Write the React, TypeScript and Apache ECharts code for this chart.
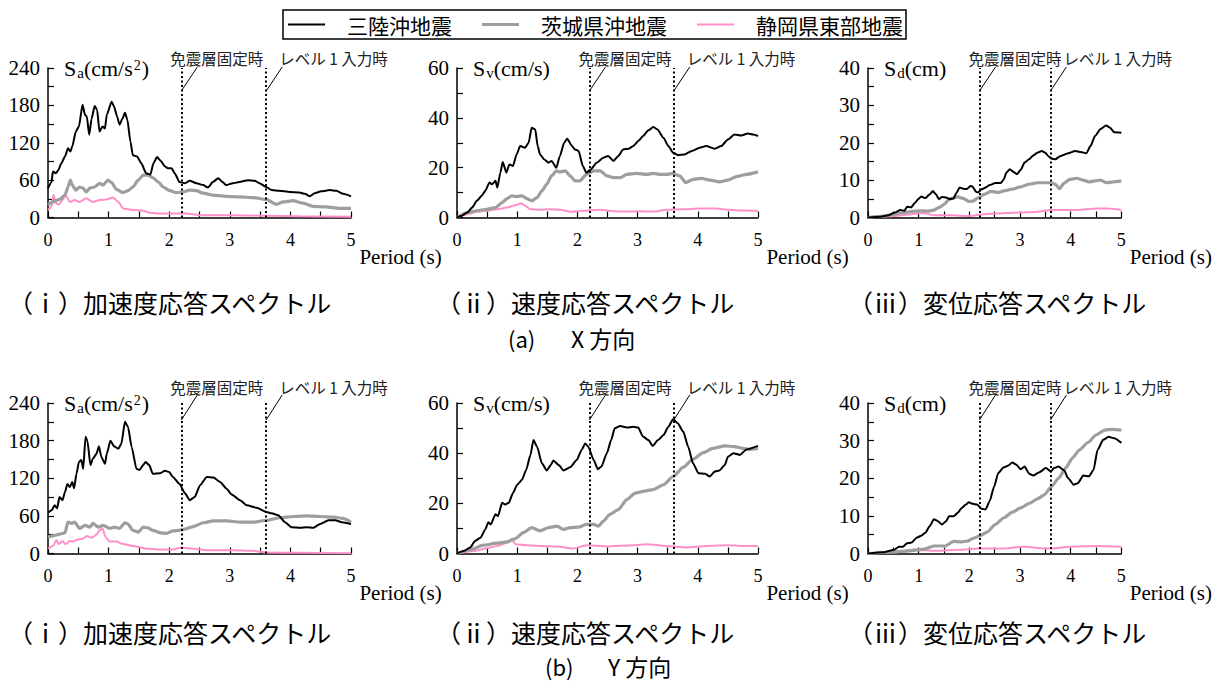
import { useEffect, useRef } from 'react';
import * as echarts from 'echarts';

type Pt = [number, number];

const SERIF = 'Liberation Serif, Times New Roman, serif';
const SANS_JP = 'Noto Sans CJK JP, Noto Sans, sans-serif';

// Earthquake records (legend order) and their line styles
const quakeNames = ['三陸沖地震', '茨城県沖地震', '静岡県東部地震'];
const quakeColors = ['#000000', '#9e9e9e', '#ff8fc8'];
const quakeWidths = [2, 3.2, 2];

// Reference periods marked by dotted lines and their labels
const markPeriods = [2.2, 3.6];
const markLabels = ['免震層固定時', 'レベル 1 入力時'];

// Axis ranges per spectrum type
const yMaxes = [240, 60, 40];
const yIntervals = [60, 20, 10];
const yNames = [
  '{m|S}{sub|a}{m|(cm/s}{sup|2}{m|)}',
  '{m|S}{sub|v}{m|(cm/s)}',
  '{m|S}{sub|d}{m|(cm)}',
];
const xName = 'Period (s)';

const captions = ['（ⅰ）加速度応答スペクトル', '（ⅱ）速度応答スペクトル', '（ⅲ）変位応答スペクトル'];
const directionTags = ['(a)', '(b)'];
const directionNames = ['X 方向', 'Y 方向'];

// ---- X direction: [period (s), response] ----
const sanrikuXSa: Pt[] = [
  [0, 47], [0.06, 57], [0.08, 74], [0.13, 71], [0.17, 76], [0.22, 87], [0.28, 98], [0.33, 111], [0.37, 106],
  [0.4, 114], [0.46, 138], [0.51, 146], [0.57, 181], [0.61, 165], [0.64, 162], [0.68, 133], [0.72, 159],
  [0.77, 179], [0.81, 173], [0.85, 138], [0.9, 146], [0.94, 143], [0.97, 165], [1.05, 186], [1.09, 178],
  [1.14, 162], [1.18, 149], [1.23, 159], [1.27, 168], [1.31, 157], [1.36, 122], [1.4, 100], [1.47, 98],
  [1.54, 87], [1.62, 71], [1.69, 69], [1.74, 87], [1.8, 97], [1.85, 92], [1.93, 82], [1.98, 79], [2.04, 79],
  [2.09, 71], [2.17, 57], [2.26, 55], [2.34, 59], [2.45, 55], [2.56, 52], [2.64, 48], [2.72, 57], [2.81, 63],
  [2.88, 57], [2.94, 52], [3.05, 55], [3.16, 57], [3.3, 60], [3.41, 59], [3.49, 55], [3.6, 49], [3.69, 44],
  [3.82, 43], [3.99, 41], [4.15, 40], [4.24, 38], [4.32, 34], [4.4, 39], [4.51, 42], [4.65, 44], [4.76, 43],
  [4.87, 38], [5, 34],
];
const ibarakiXSa: Pt[] = [
  [0, 20], [0.08, 25], [0.19, 29], [0.28, 36], [0.33, 49], [0.37, 60], [0.4, 52], [0.46, 44], [0.52, 49],
  [0.58, 47], [0.63, 41], [0.69, 47], [0.77, 49], [0.85, 55], [0.91, 52], [0.99, 60], [1.05, 56], [1.13, 45],
  [1.24, 40], [1.32, 43], [1.4, 49], [1.49, 60], [1.57, 68], [1.65, 68], [1.73, 64], [1.82, 57], [1.9, 49],
  [2.01, 43], [2.12, 40], [2.23, 41], [2.34, 44], [2.45, 43], [2.56, 39], [2.72, 36], [2.94, 34], [3.16, 33],
  [3.38, 32], [3.6, 29], [3.77, 21], [3.88, 25], [4.04, 27], [4.21, 23], [4.37, 18], [4.59, 17], [4.81, 14.5],
  [5, 14.5],
];
const shizuokaXSa: Pt[] = [
  [0, 12], [0.06, 17], [0.09, 36], [0.14, 22], [0.18, 21], [0.24, 28], [0.29, 36], [0.31, 33], [0.36, 25],
  [0.44, 28], [0.52, 25], [0.63, 31], [0.74, 25], [0.85, 28], [0.96, 29], [1.07, 32], [1.16, 25], [1.24, 14.5],
  [1.4, 12], [1.57, 11], [1.68, 7.5], [1.84, 6.4], [2.06, 6.4], [2.28, 6.4], [2.5, 3.8], [3.05, 3.8],
  [3.6, 2.7], [4.15, 2.1], [5, 1.1],
];

const sanrikuXSv: Pt[] = [
  [0, 0], [0.08, 0.7], [0.17, 2], [0.25, 4], [0.33, 6.7], [0.41, 8.7], [0.47, 10.7], [0.54, 14], [0.58, 13.3],
  [0.64, 14.7], [0.67, 12], [0.72, 18], [0.76, 22.3], [0.82, 18], [0.87, 21.3], [0.93, 20.7], [0.99, 25.3],
  [1.05, 28.7], [1.13, 28], [1.19, 30], [1.24, 36], [1.3, 35.3], [1.34, 28.7], [1.38, 25.3], [1.45, 23.3],
  [1.52, 22], [1.57, 22.7], [1.65, 20], [1.71, 24.7], [1.78, 30], [1.83, 31.6], [1.91, 28.7], [1.96, 27.3],
  [2.02, 26.7], [2.09, 20.7], [2.15, 18], [2.22, 19.3], [2.32, 22], [2.43, 24], [2.51, 24.7], [2.6, 22.7],
  [2.68, 24.7], [2.76, 27.3], [2.85, 27.6], [2.93, 28.7], [3.01, 30.7], [3.09, 32.7], [3.18, 35], [3.26, 36.3],
  [3.33, 35.3], [3.43, 32], [3.51, 28.7], [3.59, 26], [3.67, 25], [3.78, 25.3], [3.9, 26.7], [4.03, 28],
  [4.14, 28.7], [4.28, 27.6], [4.39, 28.7], [4.5, 31.3], [4.61, 33.3], [4.72, 32.9], [4.83, 33.7], [4.92, 33.3],
  [5, 32.7],
];
const ibarakiXSv: Pt[] = [
  [0, 0], [0.17, 2], [0.33, 2.7], [0.5, 3.3], [0.64, 4], [0.75, 6], [0.83, 7.6], [0.91, 8.7], [0.99, 8.4],
  [1.08, 8.7], [1.16, 7.6], [1.24, 6.7], [1.33, 8], [1.41, 10.7], [1.49, 13.3], [1.57, 16.7], [1.65, 18.7],
  [1.71, 18.3], [1.8, 18.7], [1.88, 16.7], [1.96, 14.7], [2.04, 14.7], [2.15, 17.3], [2.27, 18.7], [2.38, 18.7],
  [2.49, 16.7], [2.6, 16], [2.71, 16], [2.82, 17.3], [2.98, 17.7], [3.15, 17.3], [3.26, 17.7], [3.37, 17.3],
  [3.48, 17.3], [3.59, 17.7], [3.7, 16.7], [3.8, 14], [3.92, 15.3], [4.06, 15.7], [4.2, 15], [4.36, 14.3],
  [4.5, 15], [4.64, 16.4], [4.81, 17.3], [5, 18.3],
];
const shizuokaXSv: Pt[] = [
  [0, 0], [0.17, 1.3], [0.33, 2.3], [0.5, 2.7], [0.66, 3.3], [0.83, 4], [0.97, 4.9], [1.07, 5.7], [1.13, 4.7],
  [1.22, 3.3], [1.38, 3.1], [1.55, 3.3], [1.71, 3.1], [1.88, 2.3], [2.1, 2.7], [2.38, 3.1], [2.6, 2.5],
  [2.82, 2.4], [3.04, 2.5], [3.26, 2.4], [3.48, 3.1], [3.76, 3.3], [4.03, 3.6], [4.31, 3.6], [4.53, 3.1],
  [4.75, 2.8], [5, 2.7],
];

const sanrikuXSd: Pt[] = [
  [0, 0], [0.25, 0.2], [0.41, 0.6], [0.52, 1.3], [0.64, 2], [0.72, 1.8], [0.77, 2.9], [0.85, 2.7], [0.92, 3.8],
  [0.99, 4.9], [1.05, 5.6], [1.13, 5.2], [1.22, 6.2], [1.28, 7.1], [1.34, 6.2], [1.4, 4.9], [1.46, 5.5],
  [1.55, 5.3], [1.62, 4.9], [1.69, 5.1], [1.75, 6.7], [1.81, 8], [1.88, 7.7], [1.95, 7.6], [2.02, 8.4],
  [2.06, 8.3], [2.13, 6.9], [2.17, 6.7], [2.25, 7.6], [2.32, 8], [2.4, 8.7], [2.51, 9.2], [2.62, 9.2],
  [2.68, 10.2], [2.73, 12], [2.8, 12.9], [2.87, 12.2], [2.94, 11.6], [3.01, 12.7], [3.09, 14.7], [3.18, 15.6],
  [3.26, 16.6], [3.34, 17.3], [3.43, 17.8], [3.5, 17.3], [3.56, 16.4], [3.63, 15.7], [3.7, 15.6], [3.78, 16.3],
  [3.87, 16.8], [3.95, 17.2], [4.09, 17.8], [4.2, 17.5], [4.31, 17.2], [4.39, 19.1], [4.48, 21.8], [4.59, 23.7],
  [4.7, 24.6], [4.78, 24], [4.86, 22.8], [5, 22.7],
];
const ibarakiXSd: Pt[] = [
  [0, 0], [0.3, 0.4], [0.52, 0.9], [0.69, 1.3], [0.86, 1.6], [1.02, 1.8], [1.19, 1.7], [1.3, 2], [1.41, 2.7],
  [1.51, 3.6], [1.6, 4.9], [1.69, 5.3], [1.78, 5.5], [1.88, 5.1], [1.99, 4.3], [2.07, 4.4], [2.18, 5.3],
  [2.29, 6.2], [2.43, 7], [2.57, 6.7], [2.68, 7.1], [2.85, 7.6], [3.01, 8.2], [3.18, 8.9], [3.34, 9.3],
  [3.48, 9.3], [3.62, 9.3], [3.7, 8.9], [3.78, 7.7], [3.87, 9.2], [3.98, 10.2], [4.12, 10.5], [4.25, 10],
  [4.36, 9.5], [4.48, 9.8], [4.59, 10], [4.7, 9.3], [4.83, 9.5], [5, 9.8],
];
const shizuokaXSd: Pt[] = [
  [0, 0], [0.52, 0.4], [0.86, 0.9], [1.08, 1.2], [1.3, 0.6], [1.63, 0.6], [2.02, 0.4], [2.29, 0.9], [2.73, 1.2],
  [3.29, 1.5], [3.62, 2], [4.12, 2], [4.5, 2.4], [4.72, 2.4], [5, 2],
];

// ---- Y direction ----
const sanrikuYSa: Pt[] = [
  [0, 65], [0.06, 69], [0.11, 77], [0.15, 72], [0.19, 90], [0.24, 85], [0.28, 98], [0.32, 111], [0.36, 106],
  [0.4, 114], [0.43, 104], [0.47, 127], [0.51, 146], [0.55, 149], [0.58, 135], [0.62, 186], [0.65, 180],
  [0.7, 141], [0.74, 151], [0.8, 159], [0.84, 171], [0.88, 154], [0.94, 143], [0.97, 159], [1.03, 180],
  [1.09, 171], [1.16, 167], [1.21, 175], [1.27, 210], [1.32, 202], [1.38, 170], [1.46, 135], [1.51, 133],
  [1.57, 141], [1.61, 146], [1.67, 141], [1.73, 127], [1.85, 128], [1.93, 132], [2, 130], [2.06, 122],
  [2.17, 111], [2.26, 96], [2.34, 85], [2.42, 90], [2.51, 109], [2.62, 122], [2.73, 121], [2.84, 114],
  [2.95, 103], [3.03, 94], [3.17, 85], [3.28, 77], [3.44, 73], [3.61, 66], [3.69, 64], [3.8, 61], [3.91, 50],
  [4.02, 42], [4.16, 41], [4.27, 42], [4.38, 41], [4.49, 47], [4.63, 53], [4.74, 53], [4.85, 50], [5, 47],
];
const ibarakiYSa: Pt[] = [
  [0, 26], [0.11, 29], [0.19, 31], [0.28, 33], [0.33, 50], [0.39, 48], [0.44, 50], [0.52, 40], [0.61, 45],
  [0.69, 42], [0.74, 48], [0.83, 42], [0.91, 45], [1.02, 40], [1.1, 42], [1.18, 40], [1.27, 49], [1.32, 47],
  [1.4, 37], [1.49, 34], [1.57, 42], [1.65, 41], [1.73, 37], [1.85, 33], [1.96, 32], [2.06, 36], [2.23, 38],
  [2.4, 43], [2.56, 49], [2.73, 52], [2.95, 52], [3.17, 50], [3.39, 50], [3.61, 53], [3.83, 57], [4.05, 59],
  [4.27, 60], [4.49, 59], [4.71, 58], [4.87, 56], [5, 50],
];
const shizuokaYSa: Pt[] = [
  [0, 8], [0.08, 12], [0.14, 21], [0.18, 15], [0.24, 20], [0.29, 15], [0.36, 20], [0.41, 19], [0.48, 22],
  [0.58, 24], [0.64, 28], [0.72, 25], [0.8, 30], [0.85, 37], [0.9, 40], [0.95, 26], [1.02, 19], [1.13, 19],
  [1.24, 15], [1.4, 12], [1.62, 8], [1.85, 6.4], [2.06, 6.4], [2.2, 9.6], [2.34, 8], [2.62, 5.3], [3.06, 5.3],
  [3.39, 4.2], [3.61, 1.6], [4.16, 1.1], [5, 0.5],
];

const sanrikuYSv: Pt[] = [
  [0, 0], [0.11, 1], [0.22, 2.4], [0.3, 5], [0.39, 6.3], [0.47, 9.6], [0.52, 12.5], [0.56, 11.6], [0.64, 15.6],
  [0.68, 14.9], [0.75, 20.2], [0.8, 19.5], [0.86, 20.2], [0.93, 24.1], [1, 27.4], [1.08, 29.4], [1.15, 33.4],
  [1.22, 39.3], [1.27, 45.2], [1.33, 42.6], [1.41, 36], [1.49, 33.1], [1.56, 35.3], [1.6, 37.1], [1.69, 35.3],
  [1.77, 33.1], [1.88, 34.4], [1.99, 37.3], [2.07, 41.3], [2.13, 43.9], [2.18, 42.6], [2.27, 37.3], [2.34, 33.6],
  [2.4, 34.7], [2.49, 40], [2.56, 45.2], [2.62, 49.9], [2.71, 50.8], [2.82, 50.2], [2.93, 50.5], [3.01, 50.2],
  [3.09, 46.6], [3.18, 45.2], [3.25, 42.9], [3.34, 45.2], [3.43, 47.2], [3.51, 50.5], [3.59, 53.5], [3.67, 51.8],
  [3.76, 48.5], [3.84, 42.6], [3.92, 36], [4.01, 32], [4.12, 31.8], [4.2, 30.7], [4.28, 32.7], [4.36, 33.1],
  [4.45, 35.3], [4.5, 38.6], [4.59, 40], [4.7, 39.3], [4.81, 41.5], [5, 42.9],
];
const ibarakiYSv: Pt[] = [
  [0, 0], [0.22, 1.5], [0.44, 3.3], [0.66, 4.1], [0.83, 4.6], [0.97, 5.9], [1.1, 8.3], [1.24, 10.3], [1.38, 9],
  [1.52, 10.3], [1.66, 10.9], [1.77, 9.6], [1.88, 10.3], [2.02, 10.5], [2.15, 11.6], [2.27, 11.6], [2.35, 10.9],
  [2.43, 12.9], [2.54, 15.6], [2.68, 17.5], [2.82, 21.5], [2.96, 24.1], [3.09, 24.8], [3.26, 25.5], [3.43, 27.4],
  [3.59, 30.7], [3.76, 34.4], [3.92, 37.6], [4.09, 40.2], [4.25, 41.9], [4.45, 42.9], [4.61, 42.6], [4.75, 41.9],
  [4.86, 41.5], [5, 41.9],
];
const shizuokaYSv: Pt[] = [
  [0, 0], [0.28, 1], [0.55, 2.4], [0.72, 3.3], [0.83, 4.4], [0.91, 5.9], [0.97, 3.7], [1.16, 3.3], [1.38, 3],
  [1.66, 2.8], [1.93, 2], [2.15, 3.3], [2.49, 2.8], [2.93, 3.3], [3.15, 3.7], [3.48, 3], [3.81, 2.4], [4.14, 3],
  [4.48, 3.3], [4.75, 3], [5, 3],
];

const sanrikuYSd: Pt[] = [
  [0, 0], [0.3, 0.3], [0.52, 1], [0.61, 1.8], [0.69, 1.8], [0.77, 2.7], [0.86, 2.9], [0.96, 4.2], [1.05, 4.7],
  [1.13, 5.5], [1.22, 7.3], [1.3, 9.1], [1.38, 8.6], [1.46, 7.7], [1.54, 8.6], [1.6, 9.9], [1.69, 9.9],
  [1.77, 10.8], [1.85, 12.1], [1.93, 13], [1.99, 13.6], [2.07, 13.2], [2.15, 13], [2.24, 11.9], [2.32, 11.7],
  [2.4, 13.9], [2.49, 17.8], [2.57, 21.4], [2.68, 22.9], [2.76, 23.3], [2.85, 24.2], [2.93, 23.6], [3.01, 22.4],
  [3.09, 23.1], [3.18, 21.2], [3.26, 20.7], [3.37, 21.5], [3.51, 22.7], [3.61, 21.8], [3.67, 22.7], [3.76, 23.1],
  [3.87, 22.1], [3.95, 20], [4.06, 18.3], [4.14, 18.7], [4.25, 20.7], [4.36, 20.5], [4.45, 22.2], [4.53, 27.5],
  [4.64, 30.2], [4.75, 31], [4.86, 30.6], [5, 29.4],
];
const ibarakiYSd: Pt[] = [
  [0, 0], [0.52, 0.4], [0.8, 0.7], [1.08, 1.1], [1.3, 2], [1.52, 2], [1.69, 3.2], [1.85, 3.1], [1.96, 3.3],
  [2.07, 4], [2.21, 4.7], [2.35, 5.7], [2.51, 7.7], [2.68, 9.5], [2.85, 11], [3.01, 12.1], [3.18, 13.3],
  [3.34, 14.5], [3.48, 15.6], [3.62, 17.8], [3.76, 20], [3.9, 22.7], [4.03, 25.3], [4.17, 27.5], [4.34, 29.5],
  [4.5, 31.5], [4.67, 32.8], [4.83, 33], [5, 32.8],
];
const shizuokaYSd: Pt[] = [
  [0, 0], [0.52, 0.3], [0.91, 1], [1.35, 0.7], [1.8, 1], [2.18, 1.3], [2.62, 1.3], [3.07, 1.8], [3.56, 1.3],
  [4, 1.8], [4.5, 2], [5, 1.8],
];

// Panels in reading order: X row (Sa, Sv, Sd), then Y row
const panelData: Pt[][][] = [
  [sanrikuXSa, ibarakiXSa, shizuokaXSa],
  [sanrikuXSv, ibarakiXSv, shizuokaXSv],
  [sanrikuXSd, ibarakiXSd, shizuokaXSd],
  [sanrikuYSa, ibarakiYSa, shizuokaYSa],
  [sanrikuYSv, ibarakiYSv, shizuokaYSv],
  [sanrikuYSd, ibarakiYSd, shizuokaYSd],
];

// Layout
const gridLefts = [48, 457, 868];
const gridWidths = [303, 301, 302];
const rowTops = [68, 403];
const rowHeights = [149.5, 150.5];
const captionLefts = [8, 436, 848];
const captionYs = [302, 632];
const tagX = [508, 545];
const tagNameX = [571, 608];
const tagYs = [338, 666];
const annoTextDy = [-10.5, -16];
const leaderDy = [[23, -1], [17, -8]];

const axisColor = '#000';

// Legend swatch: a plain bar of the series' line thickness, centred in a 37x14 box
function legendBar(thickness: number) {
  const y0 = 7 - thickness / 2;
  const y1 = 7 + thickness / 2;
  return `path://M0,0H0.01V14H0Z M0,${y0}H37V${y1}H0Z`;
}

function tickLabel(size: number, margin: number) {
  return {
    margin,
    formatter: '{n|{value}}',
    rich: { n: { fontFamily: SERIF, fontSize: size, color: '#000' } },
  };
}

function buildOption() {
  const grid: any[] = [];
  const xAxis: any[] = [];
  const yAxis: any[] = [];
  const series: any[] = [];

  for (let i = 0; i < 6; i++) {
    const row = Math.floor(i / 3);
    const col = i % 3;
    grid.push({ left: gridLefts[col], top: rowTops[row], width: gridWidths[col], height: rowHeights[row] });

    xAxis.push({
      gridIndex: i,
      type: 'value',
      min: 0,
      max: 5,
      interval: 1,
      axisLine: { show: true, onZero: false, lineStyle: { color: axisColor, width: 1.5 } },
      axisTick: { show: true, inside: true, length: 6, lineStyle: { color: axisColor, width: 1.2 } },
      minorTick: { show: true, splitNumber: 2, length: 6, lineStyle: { color: axisColor, width: 1.2 } },
      splitLine: { show: false },
      axisLabel: tickLabel(18, 13),
      name: xName,
      nameLocation: 'end',
      nameGap: 0,
      nameTextStyle: {
        color: '#000',
        fontFamily: SERIF,
        fontSize: 21,
        align: 'right',
        verticalAlign: 'top',
        padding: [29, 1, 0, 0],
      },
    });

    yAxis.push({
      gridIndex: i,
      type: 'value',
      min: 0,
      max: yMaxes[col],
      interval: yIntervals[col],
      axisLine: { show: true, lineStyle: { color: axisColor, width: 1.5 } },
      axisTick: { show: true, inside: true, length: 6, lineStyle: { color: axisColor, width: 1.2 } },
      minorTick: { show: true, splitNumber: 2, length: 6, lineStyle: { color: axisColor, width: 1.2 } },
      splitLine: { show: false },
      axisLabel: tickLabel(21, 8),
      name: yNames[col],
      nameLocation: 'end',
      nameGap: 0,
      nameTextStyle: {
        align: 'left',
        verticalAlign: 'middle',
        padding: [2, 0, 0, 16],
        rich: {
          m: { fontFamily: SERIF, fontSize: 22, color: '#000', lineHeight: 24, verticalAlign: 'top' },
          sub: { fontFamily: SERIF, fontSize: 15, color: '#000', lineHeight: 15, verticalAlign: 'top', padding: [8, 0, 0, 1] },
          sup: { fontFamily: SERIF, fontSize: 14, color: '#000', lineHeight: 14, verticalAlign: 'top', padding: [1, 1, 0, 1] },
        },
      },
    });

    // draw pink, then gray, then black on top
    [2, 1, 0].forEach((k) => {
      const s: any = {
        name: quakeNames[k],
        type: 'line',
        xAxisIndex: i,
        yAxisIndex: i,
        data: panelData[i][k],
        symbol: 'none',
        showSymbol: false,
        smooth: 0.2,
        smoothMonotone: 'x',
        lineStyle: { color: quakeColors[k], width: quakeWidths[k] },
        itemStyle: { color: quakeColors[k] },
        silent: true,
        z: 3 - k,
      };
      if (k === 0) {
        s.markLine = {
          silent: true,
          symbol: 'none',
          label: { show: false },
          lineStyle: { color: '#000', type: [2, 2.5], width: 2 },
          data: markPeriods.map((p) => ({ xAxis: p })),
        };
      }
      series.push(s);
    });
  }

  return {
    animation: false,
    backgroundColor: '#fff',
    textStyle: { fontFamily: SERIF },
    legend: {
      data: quakeNames.map((name, k) => ({ name, icon: legendBar(quakeWidths[k]) })),
      left: 283,
      top: 10,
      orient: 'horizontal',
      itemWidth: 37,
      itemHeight: 14,
      itemGap: 30,
      padding: [4, 3, 4, 5],
      borderColor: '#000',
      borderWidth: 1.5,
      selectedMode: false,
      textStyle: { fontFamily: SANS_JP, fontSize: 21, color: '#000', padding: [0, 0, 0, 17] },
    },
    grid,
    xAxis,
    yAxis,
    series,
  };
}

export default function App() {
  const ref = useRef<HTMLDivElement>(null);

  useEffect(() => {
    if (!ref.current) return;
    const chart = echarts.init(ref.current, undefined, { renderer: 'svg' });
    chart.setOption(buildOption() as any);

    const elements: any[] = [];
    for (let i = 0; i < 6; i++) {
      const row = Math.floor(i / 3);
      const col = i % 3;
      const topPx = chart.convertToPixel({ gridIndex: i } as any, [0, yMaxes[col]])[1];
      markPeriods.forEach((p, k) => {
        const xPx = chart.convertToPixel({ gridIndex: i } as any, [p, 0])[0];
        elements.push({
          type: 'text',
          x: k === 0 ? xPx - 11 : xPx + 13,
          y: topPx + annoTextDy[row],
          style: {
            text: markLabels[k],
            fontFamily: SANS_JP,
            fontSize: 15.5,
            fill: '#222',
            align: 'left',
            verticalAlign: 'middle',
          },
          silent: true,
        });
        elements.push({
          type: 'line',
          shape: {
            x1: xPx,
            y1: topPx + leaderDy[row][0],
            x2: xPx + 16,
            y2: topPx + leaderDy[row][1],
          },
          style: { stroke: '#000', lineWidth: 1 },
          silent: true,
        });
      });
    }
    for (let row = 0; row < 2; row++) {
      for (let col = 0; col < 3; col++) {
        elements.push({
          type: 'text',
          x: captionLefts[col],
          y: captionYs[row],
          style: {
            text: captions[col],
            fontFamily: SANS_JP,
            fontSize: 25,
            fill: '#000',
            align: 'left',
            verticalAlign: 'middle',
          },
          silent: true,
        });
      }
      elements.push({
        type: 'text',
        x: tagX[row],
        y: tagYs[row],
        style: { text: directionTags[row], fontFamily: SANS_JP, fontSize: 22, fill: '#000', align: 'left', verticalAlign: 'middle' },
        silent: true,
      });
      elements.push({
        type: 'text',
        x: tagNameX[row],
        y: tagYs[row],
        style: { text: directionNames[row], fontFamily: SANS_JP, fontSize: 23, fill: '#000', align: 'left', verticalAlign: 'middle' },
        silent: true,
      });
    }
    chart.setOption({ graphic: elements });

    return () => {
      chart.dispose();
    };
  }, []);

  return (
    <div
      ref={ref}
      style={{ position: 'absolute', left: 0, top: 0, width: 1213, height: 682, background: '#fff' }}
    />
  );
}
